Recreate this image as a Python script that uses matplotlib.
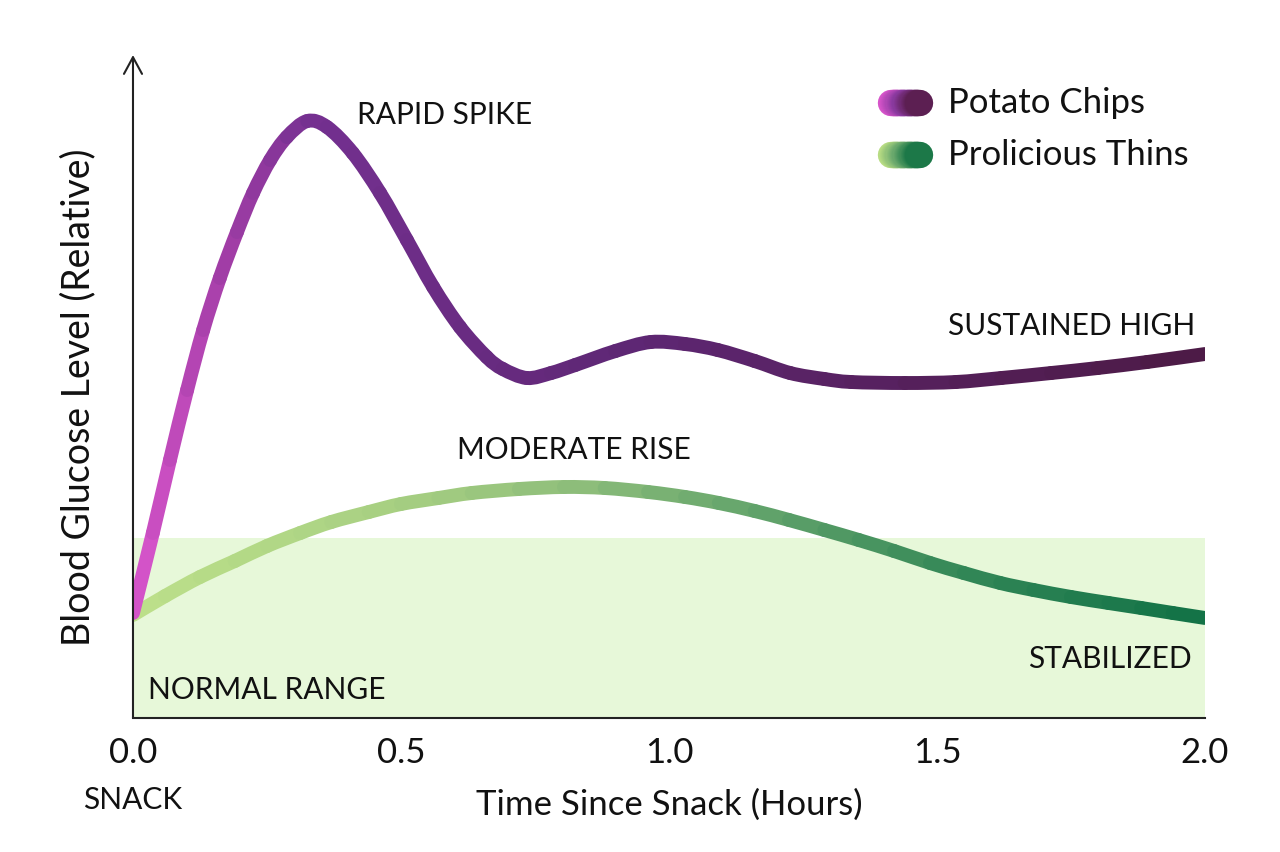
import numpy as np
import matplotlib
matplotlib.use("Agg")
import matplotlib.pyplot as plt
from matplotlib.collections import LineCollection
from matplotlib.colors import LinearSegmentedColormap
from matplotlib.path import Path
from matplotlib.patches import PathPatch

plt.rcParams['font.family'] = ['Lato', 'DejaVu Sans']

# --- data (hours, relative glucose) ---
chips_x = [0.0, 0.037, 0.069, 0.101, 0.131, 0.162, 0.194, 0.224, 0.256, 0.287,
           0.325, 0.362, 0.410, 0.461, 0.511, 0.560, 0.610, 0.660, 0.690, 0.735,
           0.780, 0.825, 0.900, 0.966, 1.030, 1.091, 1.160, 1.226, 1.290, 1.340,
           1.440, 1.535, 1.620, 1.713, 1.800, 1.892, 2.0]
chips_y = [1.05, 1.85, 2.58, 3.28, 3.88, 4.40, 4.86, 5.25, 5.58, 5.81,
           5.97, 5.91, 5.65, 5.25, 4.78, 4.31, 3.91, 3.61, 3.49, 3.40,
           3.45, 3.53, 3.67, 3.76, 3.74, 3.68, 3.57, 3.45, 3.39, 3.36,
           3.35, 3.36, 3.40, 3.45, 3.50, 3.56, 3.64]

thins_x = [0.0, 0.06, 0.125, 0.19, 0.25, 0.312, 0.37, 0.44, 0.50, 0.57,
           0.632, 0.72, 0.804, 0.88, 0.961, 1.03, 1.093, 1.16, 1.224, 1.29,
           1.354, 1.42, 1.487, 1.55, 1.618, 1.68, 1.750, 1.82, 1.881, 1.94, 2.0]
thins_y = [1.03, 1.22, 1.41, 1.57, 1.72, 1.85, 1.96, 2.06, 2.14, 2.20,
           2.25, 2.29, 2.31, 2.30, 2.26, 2.21, 2.15, 2.07, 1.98, 1.88,
           1.78, 1.67, 1.55, 1.45, 1.35, 1.28, 1.21, 1.15, 1.10, 1.05, 1.00]

normal_top = 1.80
xticks = [0.0, 0.5, 1.0, 1.5, 2.0]
xtick_labels = ["0.0", "0.5", "1.0", "1.5", "2.0"]

purple_cmap = LinearSegmentedColormap.from_list(
    "chips", [(0.0, "#d855cc"), (0.08, "#a43ea8"), (0.17, "#743090"),
              (0.45, "#5f2775"), (1.0, "#4c1a45")])
green_cmap = LinearSegmentedColormap.from_list(
    "thins", [(0.0, "#bde08a"), (0.25, "#a7cf82"), (0.42, "#8dbd7a"),
              (0.62, "#5a9e68"), (0.8, "#2f8555"), (1.0, "#127246")])
purple_key = LinearSegmentedColormap.from_list("ck", ["#d654ca", "#8b3aa0", "#5c1f52"])
green_key = LinearSegmentedColormap.from_list("tk", ["#b8dc84", "#6caa6e", "#1c7848"])


def smooth_line(ax, x, y, cmap, lw):
    # one cubic bezier piece between each pair of read points
    P = np.column_stack([x, y])
    n = len(P)
    for i in range(n - 1):
        p0 = P[max(i - 1, 0)]
        p1 = P[i]
        p2 = P[i + 1]
        p3 = P[min(i + 2, n - 1)]
        c1 = p1 + (p2 - p0) / 6
        c2 = p2 - (p3 - p1) / 6
        path = Path([p1, c1, c2, p2],
                    [Path.MOVETO, Path.CURVE4, Path.CURVE4, Path.CURVE4])
        col = cmap((p1[0] + p2[0]) / 2 / 2.0)
        ax.add_patch(PathPatch(path, fill=False, edgecolor=col, lw=lw,
                               capstyle='round', joinstyle='round', zorder=3))


fig = plt.figure(figsize=(12.8, 8.52), dpi=100)
ax = fig.add_axes([0.1039, 0.1573, 0.8375, 0.7781])
ax.set_xlim(0, 2.0)
ax.set_ylim(0, 6.63)

# normal range band
ax.axhspan(0, normal_top, color="#e7f8d9", zorder=0, lw=0)

smooth_line(ax, thins_x, thins_y, green_cmap, 10)
smooth_line(ax, chips_x, chips_y, purple_cmap, 10)

# axes styling
for s in ["top", "right", "left"]:
    ax.spines[s].set_visible(False)
ax.spines["bottom"].set_color("#222222")
ax.spines["bottom"].set_linewidth(1.5)
ax.annotate("", xy=(0, 1.0), xytext=(0, 0), xycoords="axes fraction",
            arrowprops=dict(arrowstyle="->,head_length=1.2,head_width=0.65",
                            lw=1.5, color="#222222", shrinkA=0, shrinkB=0))
ax.set_yticks([])
ax.set_xticks(xticks)
ax.set_xticklabels(xtick_labels, fontsize=25, color="#111111")
ax.tick_params(axis="x", length=0, pad=14)

ax.set_xlabel("Time Since Snack (Hours)", fontsize=25, color="#111111")
ax.xaxis.set_label_coords(0.5, -0.131)
ax.xaxis.label.set_va("center")
ax.set_ylabel("Blood Glucose Level (Relative)", fontsize=27, color="#111111")
ax.yaxis.set_label_coords(-0.051, 0.484)
ax.yaxis.label.set_va("center")

# annotations
txt = dict(fontsize=21.5, color="#111111", va="center")
ax.text(0.418, 6.03, "RAPID SPIKE", ha="left", **txt)
ax.text(1.981, 3.92, "SUSTAINED HIGH", ha="right", **txt)
ax.text(0.823, 2.68, "MODERATE RISE", ha="center", **txt)
ax.text(1.976, 0.59, "STABILIZED", ha="right", **txt)
ax.text(0.028, 0.28, "NORMAL RANGE", ha="left", **txt)
ax.text(0.0, -0.82, "SNACK", ha="center", clip_on=False, **txt)

# legend with gradient pills
legend_items = [("Potato Chips", purple_key, 0.9276),
                ("Prolicious Thins", green_key, 0.849)]
for label, cmap, ly in legend_items:
    xs = np.linspace(0.7075, 0.7337, 25)
    pts = np.column_stack([xs, np.full_like(xs, ly)]).reshape(-1, 1, 2)
    segs = np.concatenate([pts[:-1], pts[1:]], axis=1)
    cols = cmap(np.linspace(0, 1, len(segs)))
    lc = LineCollection(segs, colors=cols, linewidths=19, capstyle='round',
                        transform=ax.transAxes, zorder=4, clip_on=False)
    ax.add_collection(lc)
    ax.text(0.760, ly, label, transform=ax.transAxes, fontsize=25,
            color="#111111", va="center", ha="left")

fig.savefig("out.png", dpi=100, facecolor="white")
